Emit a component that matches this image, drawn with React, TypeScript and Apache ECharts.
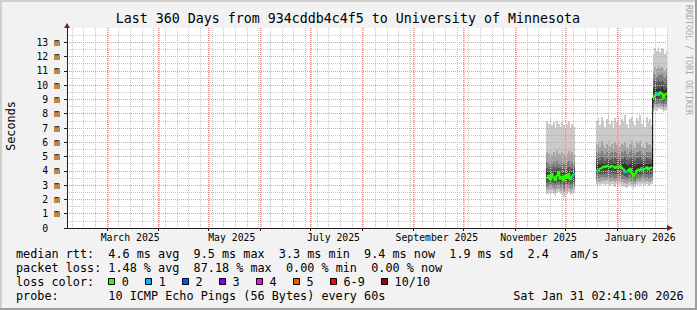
import React, { useEffect, useRef } from 'react';
import * as echarts from 'echarts';

const MONO = '"DejaVu Sans Mono", monospace';
const START_MS = Date.UTC(2025, 1, 5, 2, 41);
const DAY_MS = 86400000;
const RANGE_DAYS = 360;
const STEP_DAYS = 1;
const Y_MAX = 14;

// axis ticks / labels
const monthStarts = ['2025-03-01', '2025-04-01', '2025-05-01', '2025-06-01', '2025-07-01', '2025-08-01', '2025-09-01', '2025-10-01', '2025-11-01', '2025-12-01', '2026-01-01'];
const monthLabels = ['March 2025', 'May 2025', 'July 2025', 'September 2025', 'November 2025', 'January 2026'];
const monthLabelDates = ['2025-03-15', '2025-05-15', '2025-07-15', '2025-09-15', '2025-11-15', '2026-01-15'];
const firstWeekLine = '2025-02-08';
const yTicks = [0, 1, 2, 3, 4, 5, 6, 7, 8, 9, 10, 11, 12, 13];

// samples (days since start), three segments
const segmentStarts = [0, 17, 51];
const sampleDay = [
  287.5, 288.5, 289.5, 290.5, 291.5, 292.5, 293.5, 294.5, 295.5, 296.5, 297.5, 298.5, 299.5, 300.5, 301.5, 302.5, 303.5,
  317.4, 318.4, 319.4, 320.4, 321.4, 322.4, 323.4, 324.4, 325.4, 326.4, 327.4, 328.4, 329.4, 330.4, 331.4, 332.4, 333.4,
  334.4, 335.4, 336.4, 337.4, 338.4, 339.4, 340.4, 341.4, 342.4, 343.4, 344.4, 345.4, 346.4, 347.4, 348.4, 349.4, 350.4,
  351.4, 352.4, 353.4, 354.4, 355.4, 356.4, 357.4, 358.4, 359.4,
];
const pingMax = [
  7.5, 7.3, 7.6, 7.2, 7.4, 7.0, 7.5, 7.3, 7.1, 7.4, 7.2, 6.9, 7.3, 7.5, 7.0, 7.3, 7.1,
  7.5, 7.7, 7.2, 7.8, 7.4, 7.1, 7.6, 7.9, 7.3, 7.5, 6.9, 7.7, 7.4, 7.8, 7.2, 7.6, 7.5, 7.9, 7.3, 7.0, 7.6, 7.8, 7.4, 7.2, 7.7, 7.5, 7.9, 7.3, 7.6, 7.1, 7.8, 7.4, 7.6, 7.2,
  12.2, 12.6, 12.4, 12.7, 12.3, 12.6, 12.5, 12.2, 12.4,
];
const ping9 = [
  5.3, 5.2, 5.4, 5.1, 5.3, 5.0, 5.4, 5.2, 5.1, 5.3, 5.2, 5.0, 5.2, 5.4, 5.1, 5.3, 5.2,
  5.9, 6.0, 5.7, 6.1, 5.8, 5.6, 5.9, 6.1, 5.7, 5.9, 5.5, 6.0, 5.8, 6.1, 5.7, 5.9, 5.8, 6.0, 5.7, 5.5, 5.9, 6.1, 5.8, 5.6, 6.0, 5.9, 6.1, 5.7, 5.9, 5.6, 6.0, 5.8, 5.9, 5.7,
  11.0, 11.3, 11.1, 11.4, 11.2, 11.3, 11.1, 11.0, 11.2,
];
const ping8 = [
  4.6, 4.5, 4.7, 4.5, 4.6, 4.4, 4.7, 4.5, 4.4, 4.6, 4.5, 4.4, 4.6, 4.7, 4.5, 4.6, 4.5,
  5.3, 5.35, 5.15, 5.4, 5.25, 5.1, 5.3, 5.45, 5.2, 5.3, 5.05, 5.35, 5.25, 5.4, 5.15, 5.3, 5.25, 5.4, 5.2, 5.05, 5.3, 5.45, 5.25, 5.1, 5.35, 5.3, 5.4, 5.2, 5.3, 5.1, 5.35, 5.25, 5.3, 5.2,
  10.5, 10.8, 10.6, 10.8, 10.7, 10.8, 10.6, 10.5, 10.7,
];
const ping7 = [
  4.2, 4.15, 4.3, 4.1, 4.25, 4.1, 4.3, 4.2, 4.1, 4.2, 4.15, 4.05, 4.2, 4.3, 4.15, 4.2, 4.2,
  4.85, 4.9, 4.75, 4.95, 4.8, 4.7, 4.85, 5.0, 4.75, 4.85, 4.65, 4.9, 4.8, 4.95, 4.75, 4.85, 4.8, 4.95, 4.75, 4.65, 4.85, 5.0, 4.8, 4.7, 4.9, 4.85, 4.95, 4.75, 4.85, 4.7, 4.9, 4.8, 4.85, 4.75,
  10.1, 10.3, 10.2, 10.4, 10.2, 10.3, 10.2, 10.1, 10.2,
];
const ping6 = [
  3.9, 3.85, 4.0, 3.85, 3.95, 3.8, 4.0, 3.95, 3.85, 3.95, 3.85, 3.8, 3.9, 4.0, 3.85, 3.9, 3.95,
  4.45, 4.5, 4.45, 4.55, 4.5, 4.45, 4.55, 4.6, 4.45, 4.55, 4.45, 4.5, 4.5, 4.55, 4.5, 4.45, 4.45, 4.55, 4.4, 4.35, 4.5, 4.6, 4.45, 4.35, 4.5, 4.45, 4.55, 4.45, 4.5, 4.4, 4.5, 4.45, 4.55, 4.45,
  9.65, 9.8, 9.75, 9.9, 9.75, 9.85, 9.7, 9.65, 9.8,
];
const medianRtt = [
  3.5, 3.7, 3.4, 3.8, 3.55, 3.35, 3.65, 3.9, 3.45, 3.6, 3.3, 3.7, 3.5, 3.8, 3.4, 3.6, 3.75,
  4.0, 4.05, 4.15, 4.2, 4.3, 4.25, 4.35, 4.3, 4.25, 4.35, 4.3, 4.2, 4.3, 4.25, 4.35, 4.2, 4.1, 3.95, 3.9, 4.05, 4.15, 3.85, 3.6, 3.8, 4.0, 4.1, 4.05, 4.2, 4.1, 4.15, 4.25, 4.1, 4.2, 4.25,
  9.1, 9.3, 9.45, 9.3, 9.5, 9.4, 9.1, 9.35, 9.4,
];
const ping5 = [
  3.35, 3.45, 3.3, 3.5, 3.4, 3.25, 3.45, 3.55, 3.3, 3.4, 3.2, 3.45, 3.35, 3.5, 3.3, 3.4, 3.5,
  3.9, 3.95, 4.0, 4.05, 4.1, 4.05, 4.15, 4.1, 4.05, 4.15, 4.1, 4.0, 4.1, 4.05, 4.15, 4.0, 3.95, 3.85, 3.8, 3.9, 4.0, 3.75, 3.55, 3.7, 3.9, 3.95, 3.9, 4.05, 3.95, 4.0, 4.1, 3.95, 4.05, 4.1,
  8.95, 9.1, 9.2, 9.1, 9.25, 9.2, 8.95, 9.15, 9.2,
];
const ping4 = [
  3.15, 3.2, 3.1, 3.25, 3.15, 3.05, 3.2, 3.25, 3.1, 3.15, 3.0, 3.2, 3.1, 3.25, 3.05, 3.15, 3.2,
  3.7, 3.75, 3.75, 3.8, 3.85, 3.8, 3.85, 3.85, 3.8, 3.85, 3.8, 3.75, 3.8, 3.8, 3.85, 3.75, 3.7, 3.65, 3.6, 3.7, 3.75, 3.55, 3.4, 3.5, 3.7, 3.75, 3.7, 3.8, 3.7, 3.75, 3.8, 3.7, 3.75, 3.8,
  8.75, 8.9, 8.95, 8.9, 9.0, 8.95, 8.75, 8.9, 8.95,
];
const ping3 = [
  2.9, 2.95, 2.85, 2.95, 2.9, 2.8, 2.95, 3.0, 2.85, 2.9, 2.75, 2.95, 2.85, 3.0, 2.8, 2.9, 2.95,
  3.45, 3.5, 3.5, 3.55, 3.55, 3.5, 3.6, 3.55, 3.5, 3.55, 3.5, 3.45, 3.5, 3.5, 3.55, 3.45, 3.4, 3.4, 3.35, 3.45, 3.5, 3.3, 3.2, 3.3, 3.45, 3.5, 3.45, 3.55, 3.45, 3.5, 3.55, 3.45, 3.5, 3.55,
  8.55, 8.7, 8.7, 8.7, 8.75, 8.7, 8.55, 8.65, 8.7,
];
const ping2 = [
  2.65, 2.7, 2.6, 2.7, 2.65, 2.55, 2.7, 2.75, 2.6, 2.65, 2.5, 2.7, 2.6, 2.75, 2.55, 2.65, 2.7,
  3.25, 3.3, 3.25, 3.3, 3.35, 3.3, 3.35, 3.3, 3.25, 3.3, 3.3, 3.2, 3.3, 3.25, 3.3, 3.2, 3.15, 3.15, 3.1, 3.2, 3.25, 3.1, 3.0, 3.1, 3.25, 3.3, 3.2, 3.3, 3.2, 3.25, 3.3, 3.2, 3.25, 3.3,
  8.35, 8.5, 8.5, 8.5, 8.55, 8.5, 8.35, 8.45, 8.5,
];
const pingMin = [
  2.4, 2.45, 2.3, 2.45, 2.4, 2.25, 2.45, 2.5, 2.35, 2.4, 2.2, 2.45, 2.35, 2.5, 2.3, 2.4, 2.45,
  3.0, 3.1, 3.0, 3.05, 3.1, 3.0, 3.1, 3.05, 2.95, 3.05, 3.0, 2.9, 3.05, 3.0, 3.05, 2.95, 2.85, 2.9, 2.8, 2.95, 3.0, 2.85, 2.7, 2.85, 3.0, 3.05, 2.95, 3.05, 2.95, 3.0, 3.1, 2.95, 3.0, 3.05,
  8.1, 8.25, 8.2, 8.3, 8.3, 8.25, 8.1, 8.2, 8.25,
];
const lossCount = [
  0, 0, 0, 0, 0, 0, 0, 0, 0, 0, 0, 0, 0, 0, 0, 1, 1,
  1, 0, 0, 0, 0, 0, 0, 0, 0, 0, 0, 0, 0, 0, 0, 0, 0, 1, 1, 0, 0, 0, 0, 0, 0, 0, 0, 1, 0, 0, 0, 0, 0, 0,
  0, 0, 1, 1, 0, 0, 1, 0, 0,
];

// legend statistics
const rttStats = [4.6, 9.5, 3.3, 9.4, 1.9];
const rttStatNames = ['avg', 'max', 'min', 'now', 'sd'];
const amPerS = 2.4;
const lossStats = [1.48, 87.18, 0.0, 0.0];
const lossStatNames = ['avg', 'max', 'min', 'now'];
const lossLabels = ['0', '1', '2', '3', '4', '5', '6-9', '10/10'];
const lossColors = ['#26ff00', '#00b8ff', '#0059ff', '#7e00ff', '#ff00ff', '#ff5500', '#ff0000', '#a10000'];
const probeText = '10 ICMP Echo Pings (56 Bytes) every 60s';
const stampText = 'Sat Jan 31 02:41:00 2026';
const titleText = 'Last 360 Days from 934cddb4c4f5 to University of Minnesota';

const BAND_COLORS = ['#cacaca', '#a4a4a4', '#7e7e7e', '#585858', '#323232'];
const GRID_COLOR = 'rgba(143,143,143,0.5)';
const MGRID_COLOR = '#eb9a9a';
const MONTH_COLORS = ['#e88a8a', '#f2b4b4'];
const WEEK_COLOR = '#c6c6c6';

const dayOf = (iso: string) => (Date.parse(iso + 'T00:00:00Z') - START_MS) / DAY_MS;
const monthDays = monthStarts.map(dayOf);
const labelDays = monthLabelDates.map(dayOf);
const weekDays: number[] = [];
for (let d = dayOf(firstWeekLine); d < RANGE_DAYS; d += 7) weekDays.push(d);

const sampleEnd = (i: number) => Math.min(sampleDay[i] + STEP_DAYS, RANGE_DAYS);
const lossIndex = (n: number) => (n <= 5 ? n : n < 10 ? 6 : 7);

function rectRenderer(color: string) {
  return (params: any, api: any) => {
    const a = api.coord([api.value(0), api.value(3)]);
    const b = api.coord([api.value(1), api.value(2)]);
    const x0 = Math.round(a[0]);
    const x1 = Math.round(b[0]);
    const y0 = Math.round(a[1]);
    const y1 = Math.round(b[1]);
    return { type: 'rect', shape: { x: x0, y: y0, width: x1 - x0, height: y1 - y0 }, style: { fill: color } };
  };
}

// vertical dotted grid line built from 1x1 dots; colors[k] is drawn at column x+k
function vLineRenderer(colors: string[]) {
  return (params: any, api: any) => {
    const top = api.coord([api.value(0), Y_MAX]);
    const bot = api.coord([api.value(0), 0]);
    const x = Math.round(top[0]);
    const y0 = Math.round(top[1]);
    const y1 = Math.round(bot[1]);
    const children: any[] = [];
    colors.forEach((c, k) => {
      for (let y = y1 - 2; y >= y0; y -= 2) {
        children.push({ type: 'rect', shape: { x: x + k, y, width: 1, height: 1 }, style: { fill: c } });
      }
    });
    return { type: 'group', children };
  };
}

function buildOption() {
  const lows = [pingMin, ping2, ping3, ping4, ping5];
  const highs = [pingMax, ping9, ping8, ping7, ping6];
  const bandSeries = BAND_COLORS.map((c, b) => ({
    type: 'custom',
    coordinateSystem: 'cartesian2d',
    xAxisIndex: 0,
    yAxisIndex: 0,
    z: 1,
    silent: true,
    encode: { x: [0, 1], y: [2, 3] },
    renderItem: rectRenderer(c),
    data: sampleDay.map((d, i) => [d, sampleEnd(i), lows[b][i], highs[b][i]]),
  }));

  const weekSeries = {
    type: 'custom',
    coordinateSystem: 'cartesian2d',
    xAxisIndex: 0,
    yAxisIndex: 0,
    z: 2,
    silent: true,
    clip: false,
    encode: { x: 0, y: 1 },
    renderItem: vLineRenderer([WEEK_COLOR]),
    data: weekDays.map((d) => [d, 0]),
  };
  const monthSeries = {
    type: 'custom',
    coordinateSystem: 'cartesian2d',
    xAxisIndex: 0,
    yAxisIndex: 0,
    z: 3,
    silent: true,
    clip: false,
    encode: { x: 0, y: 1 },
    renderItem: vLineRenderer(MONTH_COLORS),
    data: monthDays.map((d) => [d, 0]),
  };

  const medianSeries = segmentStarts.map((s, k) => {
    const e = k + 1 < segmentStarts.length ? segmentStarts[k + 1] : sampleDay.length;
    const pts: number[][] = [];
    for (let i = s; i < e; i++) pts.push([sampleDay[i], medianRtt[i]]);
    pts.push([sampleEnd(e - 1), medianRtt[e - 1]]);
    return {
      type: 'line',
      xAxisIndex: 0,
      yAxisIndex: 0,
      z: 4,
      silent: true,
      step: 'end',
      symbol: 'none',
      lineStyle: { color: lossColors[0], width: 2 },
      data: pts,
    };
  });

  const lossData = sampleDay
    .map((d, i) => [d, sampleEnd(i), medianRtt[i], lossCount[i]])
    .filter((r) => r[3] > 0);
  const lossSeries = {
    type: 'custom',
    coordinateSystem: 'cartesian2d',
    xAxisIndex: 0,
    yAxisIndex: 0,
    z: 5,
    silent: true,
    encode: { x: [0, 1], y: 2 },
    renderItem: (params: any, api: any) => {
      const a = api.coord([api.value(0), api.value(2)]);
      const b = api.coord([api.value(1), api.value(2)]);
      const x0 = Math.round(a[0]);
      const x1 = Math.round(b[0]);
      return {
        type: 'rect',
        shape: { x: x0, y: Math.round(a[1]) - 1, width: x1 - x0, height: 2 },
        style: { fill: lossColors[lossIndex(api.value(3))] },
      };
    },
    data: lossData,
  };

  const j = segmentStarts[2];
  const jumpSeries = {
    type: 'line',
    xAxisIndex: 0,
    yAxisIndex: 0,
    z: 5,
    silent: true,
    symbol: 'none',
    lineStyle: { color: '#000000', width: 1 },
    data: [
      [sampleDay[j], medianRtt[j - 1]],
      [sampleDay[j], medianRtt[j]],
    ],
  };

  // legend texts
  const FS = 11.8;
  const CW = FS * 0.602;
  const col = (c: number) => 16 + c * CW;
  const txt = (x: number, y: number, text: string, extra: any = {}) => ({
    type: 'text',
    x,
    y,
    silent: true,
    style: {
      text,
      fill: '#000',
      fontSize: FS,
      fontFamily: MONO,
      align: 'left',
      textAlign: 'left',
      verticalAlign: 'middle',
      textVerticalAlign: 'middle',
      ...extra,
    },
  });
  const lineToTexts = (line: string, y: number) => {
    const out: any[] = [];
    const re = /\S+(?: \S+)*/g;
    let m: RegExpExecArray | null;
    while ((m = re.exec(line))) out.push(txt(col(m.index), y, m[0]));
    return out;
  };
  const line1 =
    'median rtt:  ' +
    rttStats.map((v, i) => `${v.toFixed(1)} ms ${rttStatNames[i]}`).join('  ') +
    `  ${amPerS.toFixed(1)}   am/s`;
  const line2 =
    'packet loss: ' + lossStats.map((v, i) => `${v.toFixed(2)} % ${lossStatNames[i]}`).join('  ');
  const line4 = 'probe:'.padEnd(13, ' ') + probeText;

  const rows = [254.3, 268.3, 282, 296];
  const elements: any[] = [];
  elements.push(...lineToTexts(line1, rows[0]));
  elements.push(...lineToTexts(line2, rows[1]));
  elements.push(txt(col(0), rows[2], 'loss color:'));
  let bx = 108.3;
  lossLabels.forEach((lab, i) => {
    elements.push({
      type: 'rect',
      silent: true,
      shape: { x: Math.round(bx) + 0.5, y: 278.5, width: 6, height: 6 },
      style: { fill: lossColors[i], stroke: '#000', lineWidth: 1 },
    });
    elements.push(txt(bx + 13.4, rows[2], lab));
    bx += 29.85 + CW * lab.length;
  });
  elements.push(...lineToTexts(line4, rows[3]));
  elements.push(txt(col(70), rows[3], stampText));

  // title, axis name, watermark
  elements.push(txt(347.8, 18.5, titleText, { fontSize: 13.3, align: 'center', textAlign: 'center' }));
  elements.push({
    type: 'text',
    x: 11,
    y: 126,
    rotation: Math.PI / 2,
    silent: true,
    style: {
      text: 'Seconds',
      fill: '#000',
      fontSize: FS,
      fontFamily: MONO,
      align: 'center',
      textAlign: 'center',
      verticalAlign: 'middle',
      textVerticalAlign: 'middle',
    },
  });
  elements.push({
    type: 'text',
    x: 688.5,
    y: 5,
    rotation: -Math.PI / 2,
    silent: true,
    style: {
      text: 'RRDTOOL / TOBI OETIKER',
      fill: '#a8a8a8',
      fontSize: 8.3,
      fontFamily: MONO,
      align: 'left',
      textAlign: 'left',
      verticalAlign: 'middle',
      textVerticalAlign: 'middle',
    },
  });
  // frame shading
  elements.push({ type: 'rect', silent: true, shape: { x: 0, y: 0, width: 697, height: 2 }, style: { fill: '#cfcfcf' } });
  elements.push({ type: 'rect', silent: true, shape: { x: 0, y: 0, width: 2, height: 310 }, style: { fill: '#cfcfcf' } });
  elements.push({ type: 'rect', silent: true, shape: { x: 0, y: 308, width: 697, height: 2 }, style: { fill: '#9e9e9e' } });
  elements.push({ type: 'rect', silent: true, shape: { x: 695, y: 0, width: 2, height: 310 }, style: { fill: '#9e9e9e' } });

  const labelFont = { fontSize: 9.8, fontFamily: MONO, color: '#000' };

  return {
    animation: false,
    backgroundColor: '#f2f2f2',
    textStyle: { fontFamily: MONO },
    grid: {
      left: 67,
      top: 28,
      width: 600,
      height: 200,
      show: true,
      backgroundColor: '#ffffff',
      borderWidth: 0,
      containLabel: false,
      outerBoundsMode: 'none',
    },
    xAxis: [
      {
        type: 'value',
        min: 0,
        max: RANGE_DAYS,
        position: 'bottom',
        z: 2,
        axisLine: {
          show: true,
          onZero: false,
          lineStyle: { color: '#801f1f', width: 1 },
          symbol: ['none', 'triangle'],
          symbolSize: [6, 6],
          symbolOffset: [0, 3],
        },
        axisTick: { show: false },
        axisLabel: { show: false },
        splitLine: { show: false },
      },
      {
        type: 'value',
        min: 0,
        max: RANGE_DAYS,
        position: 'bottom',
        offset: 0,
        z: 6,
        axisLine: { show: true, onZero: false, lineStyle: { color: '#1f1f1f', width: 1 } },
        axisTick: { show: true, interval: 0, customValues: monthDays, length: 3, lineStyle: { color: '#1f1f1f' } },
        axisLabel: {
          show: true,
          interval: 0,
          customValues: labelDays,
          margin: 4,
          ...labelFont,
          formatter: (v: number) => {
            const i = labelDays.findIndex((d) => Math.abs(d - v) < 1e-6);
            return i >= 0 ? monthLabels[i] : '';
          },
        },
        splitLine: { show: false },
      },
    ],
    yAxis: [
      {
        type: 'value',
        min: 0,
        max: Y_MAX,
        interval: 1,
        position: 'left',
        z: 2,
        axisLine: {
          show: true,
          onZero: false,
          lineStyle: { color: '#801f1f', width: 1 },
          symbol: ['none', 'triangle'],
          symbolSize: [6, 5],
          symbolOffset: [0, 2.5],
        },
        axisTick: { show: false },
        axisLabel: { show: false },
        minorTick: { show: false, splitNumber: 2 },
        splitLine: { show: true, showMinLine: false, showMaxLine: false, lineStyle: { color: MGRID_COLOR, width: 1, type: [1, 1] } },
        minorSplitLine: { show: true, lineStyle: { color: GRID_COLOR, width: 1, type: [1, 1] } },
      },
      {
        type: 'value',
        min: 0,
        max: Y_MAX,
        interval: 1,
        position: 'left',
        offset: 0,
        z: 6,
        axisLine: { show: true, onZero: false, lineStyle: { color: '#1f1f1f', width: 1 } },
        axisTick: { show: true, length: 3, customValues: yTicks, lineStyle: { color: '#1f1f1f' } },
        axisLabel: {
          show: true,
          margin: 7,
          customValues: yTicks,
          ...labelFont,
          formatter: (v: number) => (v === 0 ? '{z|0}' : `${v} m`),
          rich: { z: { ...labelFont, padding: [0, 11.8, 0, 0] } },
        },
        splitLine: { show: false },
      },
    ],
    series: [...bandSeries, weekSeries, monthSeries, ...medianSeries, lossSeries, jumpSeries],
    graphic: { elements },
  };
}

export default function App() {
  const ref = useRef<HTMLDivElement>(null);
  useEffect(() => {
    if (!ref.current) return;
    const chart = echarts.init(ref.current, null, { renderer: 'svg', width: 697, height: 310 });
    chart.setOption(buildOption() as any);
    return () => chart.dispose();
  }, []);
  return <div ref={ref} style={{ position: 'fixed', left: 0, top: 0, width: 697, height: 310 }} />;
}
